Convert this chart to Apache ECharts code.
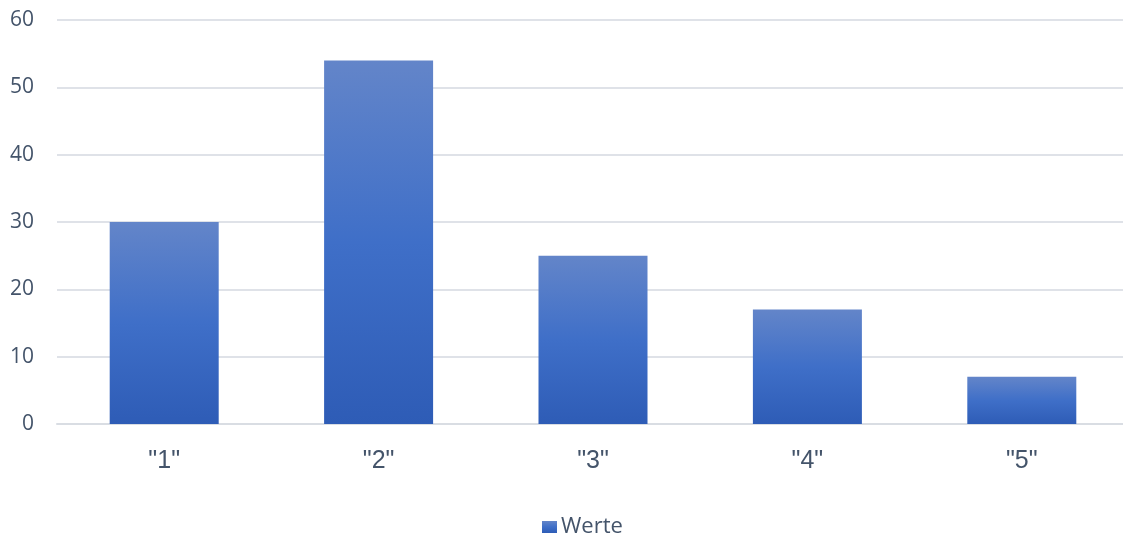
<!DOCTYPE html>
<html>
<head>
<meta charset="utf-8">
<script src="https://cdn.jsdelivr.net/npm/echarts@6/dist/echarts.min.js"></script>
<style>
  html, body { margin: 0; padding: 0; background: #fff; }
  #chart { width: 1123px; height: 537px; }
</style>
</head>
<body>
<div id="chart"></div>
<script>
// Categories and values of the column chart
const categories = ['"1"', '"2"', '"3"', '"4"', '"5"'];
const werte = [30, 54, 25, 17, 7];
const seriesName = 'Werte';
const yTicks = { min: 0, max: 60, interval: 10 };

const textColor = '#44546a';
const barGradient = new echarts.graphic.LinearGradient(0, 0, 0, 1, [
  { offset: 0, color: '#6385c9' },
  { offset: 0.5, color: '#3f6fc8' },
  { offset: 1, color: '#2e5cb6' }
]);

const chart = echarts.init(document.getElementById('chart'), null, { renderer: 'canvas' });
chart.setOption({
  animation: false,
  backgroundColor: '#ffffff',
  grid: { left: 57, width: 1072, top: 20, height: 404, containLabel: false, outerBoundsMode: 'none' },
  legend: {
    data: [seriesName],
    top: 511,
    left: 537,
    itemWidth: 15,
    itemHeight: 12,
    itemGap: 4,
    icon: 'rect',
    textStyle: { color: textColor, fontSize: 22, fontFamily: 'Open Sans', padding: [0, 0, 0, -1] }
  },
  xAxis: {
    type: 'category',
    data: categories,
    axisLine: { show: true, lineStyle: { color: '#d9dde3', width: 2 } },
    axisTick: { show: false },
    axisLabel: { color: textColor, fontSize: 25, fontFamily: 'Liberation Sans', margin: 25 }
  },
  yAxis: {
    type: 'value',
    min: yTicks.min,
    max: yTicks.max,
    interval: yTicks.interval,
    axisLine: { show: false },
    axisTick: { show: false },
    splitLine: { lineStyle: { color: '#dfe2e8', width: 2 } },
    axisLabel: { color: textColor, fontSize: 21, fontFamily: 'Open Sans', margin: 23 }
  },
  series: [{
    name: seriesName,
    type: 'bar',
    data: werte,
    barWidth: 109,
    itemStyle: { color: barGradient }
  }]
});
</script>
</body>
</html>
